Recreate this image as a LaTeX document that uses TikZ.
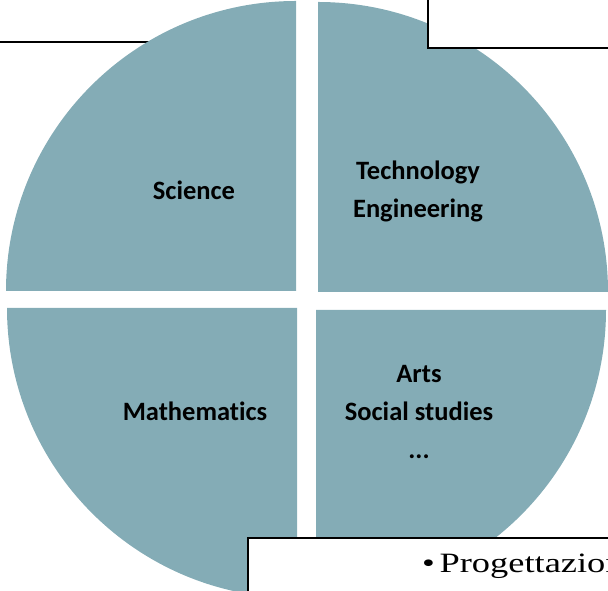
\documentclass[tikz,border=0pt]{standalone}
\usepackage{fontspec}
\setmainfont[Ligatures=NoCommon]{Carlito}
\newfontfamily\notefont[FakeStretch=1.3]{Liberation Serif}
\definecolor{pie}{RGB}{132,172,182}

\begin{document}
\begin{tikzpicture}[x=1pt,y=1pt,
	quarter/.style={fill=pie},
	label/.style={font=\fontsize{26.5}{38}\selectfont\bfseries,align=center,inner sep=0,outer sep=0},
	frame/.style={draw=black,line width=2pt,fill=white}]
	\useasboundingbox (0,0) rectangle (608,591);
	\clip (0,0) rectangle (608,591);
	\draw[line width=2pt] (-5,549) -- (160,549);
	% four quarters, pulled apart a little
	\fill[quarter] (296,300) -- (6,300) arc (180:90:290) -- cycle;
	\fill[quarter] (318,299) -- (318,589) arc (90:0:290) -- cycle;
	\fill[quarter] (297,283) -- (297,-7) arc (270:180:290) -- cycle;
	\fill[quarter] (316,281) -- (606,281) arc (0:-90:290) -- cycle;
	\node[label] (sci) at (194,401) {Science};
	\node[label] (tech) at (418,400) {Technology\\Engineering};
	\node[label] (math) at (195,180) {Mathematics};
	\node[label] (arts) at (419,179) {Arts\\Social studies\\...};
	% boxes lying over the circle
	\draw[frame] (428,543) rectangle (620,600);
	\draw[frame] (248,53) rectangle (620,-10);
	\node[anchor=base west,inner sep=0,font=\notefont\fontsize{28}{32}\selectfont] (note) at (422,18) {•\,Progettazion};
\end{tikzpicture}
\end{document}
